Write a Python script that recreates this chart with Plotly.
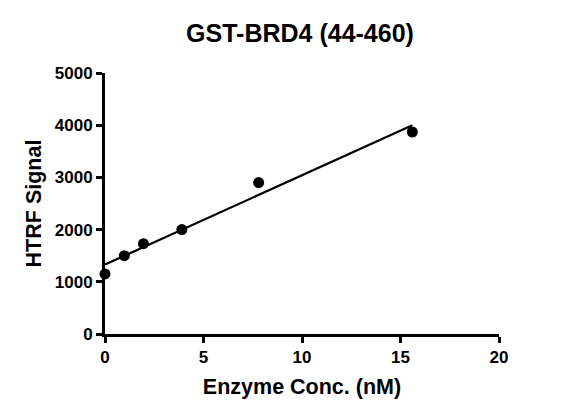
import plotly.graph_objects as go

# Data
enzyme_nM = [0, 0.98, 1.95, 3.9, 7.8, 15.6]
htrf_signal = [1150, 1500, 1730, 2000, 2900, 3870]

# Linear fit line endpoints
fit_x = [0, 15.6]
fit_y = [1330, 4000]

x_ticks = [0, 5, 10, 15, 20]
y_ticks = [0, 1000, 2000, 3000, 4000, 5000]

FONT = "Arial, Liberation Sans, sans-serif"

fig = go.Figure()
fig.add_trace(go.Scatter(
    x=fit_x, y=fit_y, mode="lines",
    line=dict(color="black", width=2.2),
    showlegend=False, cliponaxis=False,
))
fig.add_trace(go.Scatter(
    x=enzyme_nM, y=htrf_signal, mode="markers",
    marker=dict(color="black", size=11),
    showlegend=False, cliponaxis=False,
))

axis_common = dict(
    showline=True, linecolor="black", linewidth=3,
    ticks="outside", ticklen=6, tickwidth=3, tickcolor="black",
    showgrid=False, zeroline=False, automargin=False,
    tickfont=dict(family=FONT, size=17, color="black", weight="bold"),
    title_font=dict(family=FONT, size=21.5, color="black", weight="bold"),
)

# page body has an 8px default margin, so the figure is sized to fit inside it
fig.update_layout(
    width=553, height=407,
    margin=dict(l=97, r=62, t=65, b=81),
    paper_bgcolor="white", plot_bgcolor="white",
    title=dict(text="GST-BRD4 (44-460)", x=0.528, xanchor="center", xref="container",
               y=0.937, yanchor="middle", yref="container",
               font=dict(family=FONT, size=25, color="black", weight="bold")),
    xaxis=dict(range=[0, 20], tickvals=x_ticks, title=dict(text="Enzyme Conc. (nM)", standoff=13), **axis_common),
    yaxis=dict(range=[0, 5000], tickvals=y_ticks, title=dict(text="HTRF Signal", standoff=8), **axis_common),
)

fig.write_html("out.html")
